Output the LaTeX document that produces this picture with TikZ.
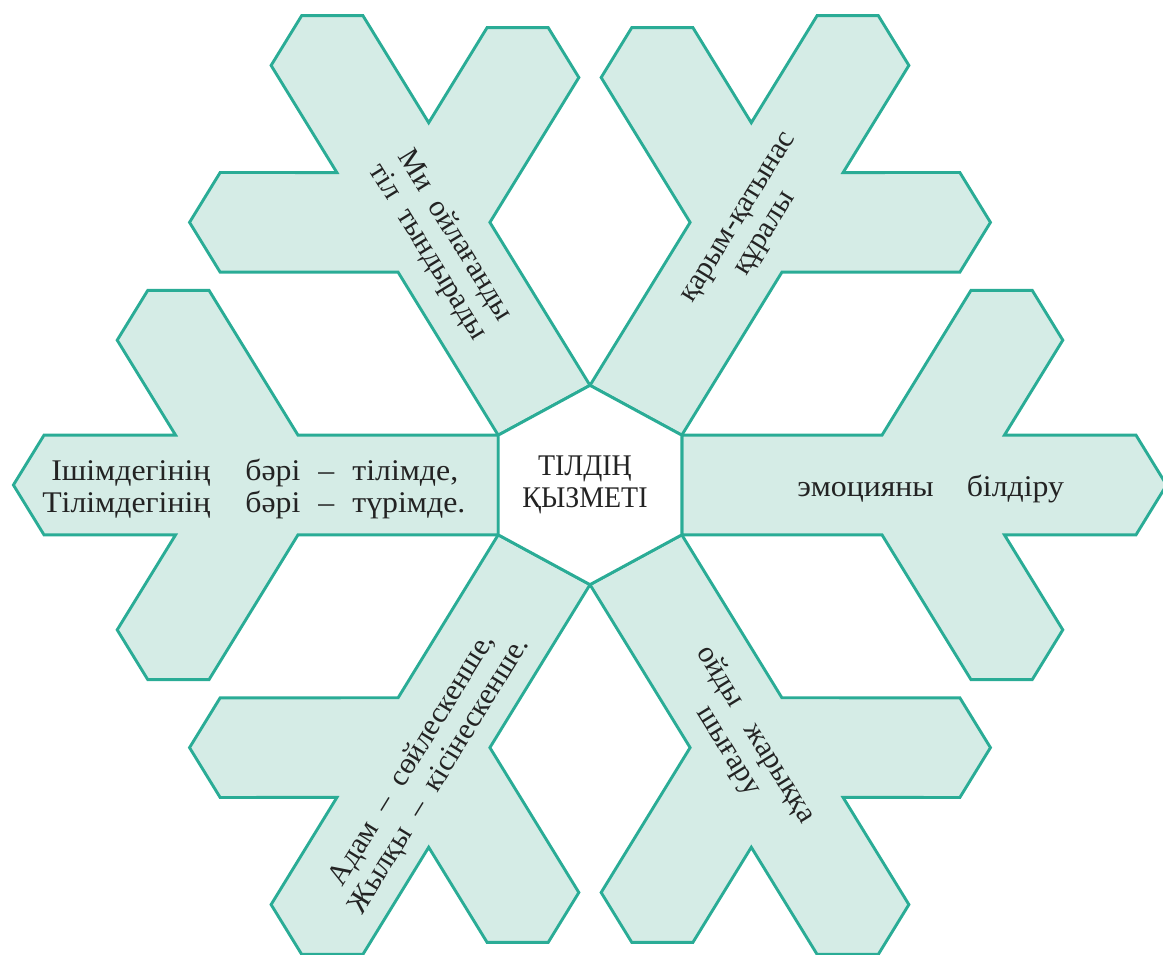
\documentclass[tikz,border=0pt]{standalone}
\usepackage{fontspec}
\setmainfont{Liberation Serif}
\newfontfamily\kzw[FakeStretch=1.06]{Liberation Serif}
\definecolor{armfill}{RGB}{213,236,230}
\definecolor{armline}{RGB}{42,172,150}
\definecolor{txt}{RGB}{35,35,35}
\newcommand\kzrow[4]{\makebox[85pt][r]{#1}\hspace{17.5pt}\makebox[27.5pt][l]{#2}\makebox[26pt]{#3}#4}
\begin{document}
\begin{tikzpicture}[x=0.5pt,y=0.5pt,
  arm/.style={fill=armfill,draw=armline,line width=1.45pt,line join=miter},
  hexa/.style={fill=white,draw=armline,line width=1.45pt,line join=miter},
  lbl/.style={text=txt,font=\fontsize{15}{15.7}\selectfont,align=center,inner sep=0pt},
  wlbl/.style={lbl,font=\kzw\fontsize{15}{15.7}\selectfont}]
\useasboundingbox (0,0) rectangle (1163,954);
\foreach \a in {0,60,...,300}{
  \begin{scope}[shift={(590,469)},yscale=0.94,rotate=\a]
    \draw[arm] (91.8,53) -- (292,53) -- (381,207.1) -- (442.2,207.1) -- (472.8,154.1) -- (414.4,53) -- (546,53) -- (576.6,0) -- (546,-53) -- (414.4,-53) -- (472.8,-154.1) -- (442.2,-207.1) -- (381,-207.1) -- (292,-53) -- (91.8,-53) -- cycle;
  \end{scope}
}
\begin{scope}[shift={(590,469)},yscale=0.94]
  \draw[hexa] (30:106) -- (90:106) -- (150:106) -- (210:106) -- (270:106) -- (330:106) -- cycle;
\end{scope}
\node[lbl,xscale=0.93] (center) at (585,469) {ТІЛДІҢ\\ҚЫЗМЕТІ};
\node[wlbl,anchor=west,align=left] (left) at (40,465) {\kzrow{Ішімдегінің}{бәрі}{–}{тілімде,}\\\kzrow{Тілімдегінің}{бәрі}{–}{түрімде.}};
\node[wlbl,anchor=west] (right) at (797,465) {эмоцияны\hspace{16.5pt}білдіру};
\node[lbl,rotate=-58.4] (ul) at (441,710) {Ми\hspace{8pt}ойлағанды\\тіл\hspace{8pt}тындырады};
\node[lbl,rotate=58.4] (ur) at (754,727) {қарым-қатынас\\құралы};
\node[lbl,rotate=58.4] (ll) at (426,186) {Адам\hspace{8pt}–\hspace{8pt}сөйлескенше,\\Жылқы\hspace{8pt}–\hspace{8pt}кісінескенше.};
\node[lbl,rotate=-58.4] (lr) at (742,211) {ойды\hspace{12pt}жарыққа\\шығару};
\end{tikzpicture}
\end{document}
